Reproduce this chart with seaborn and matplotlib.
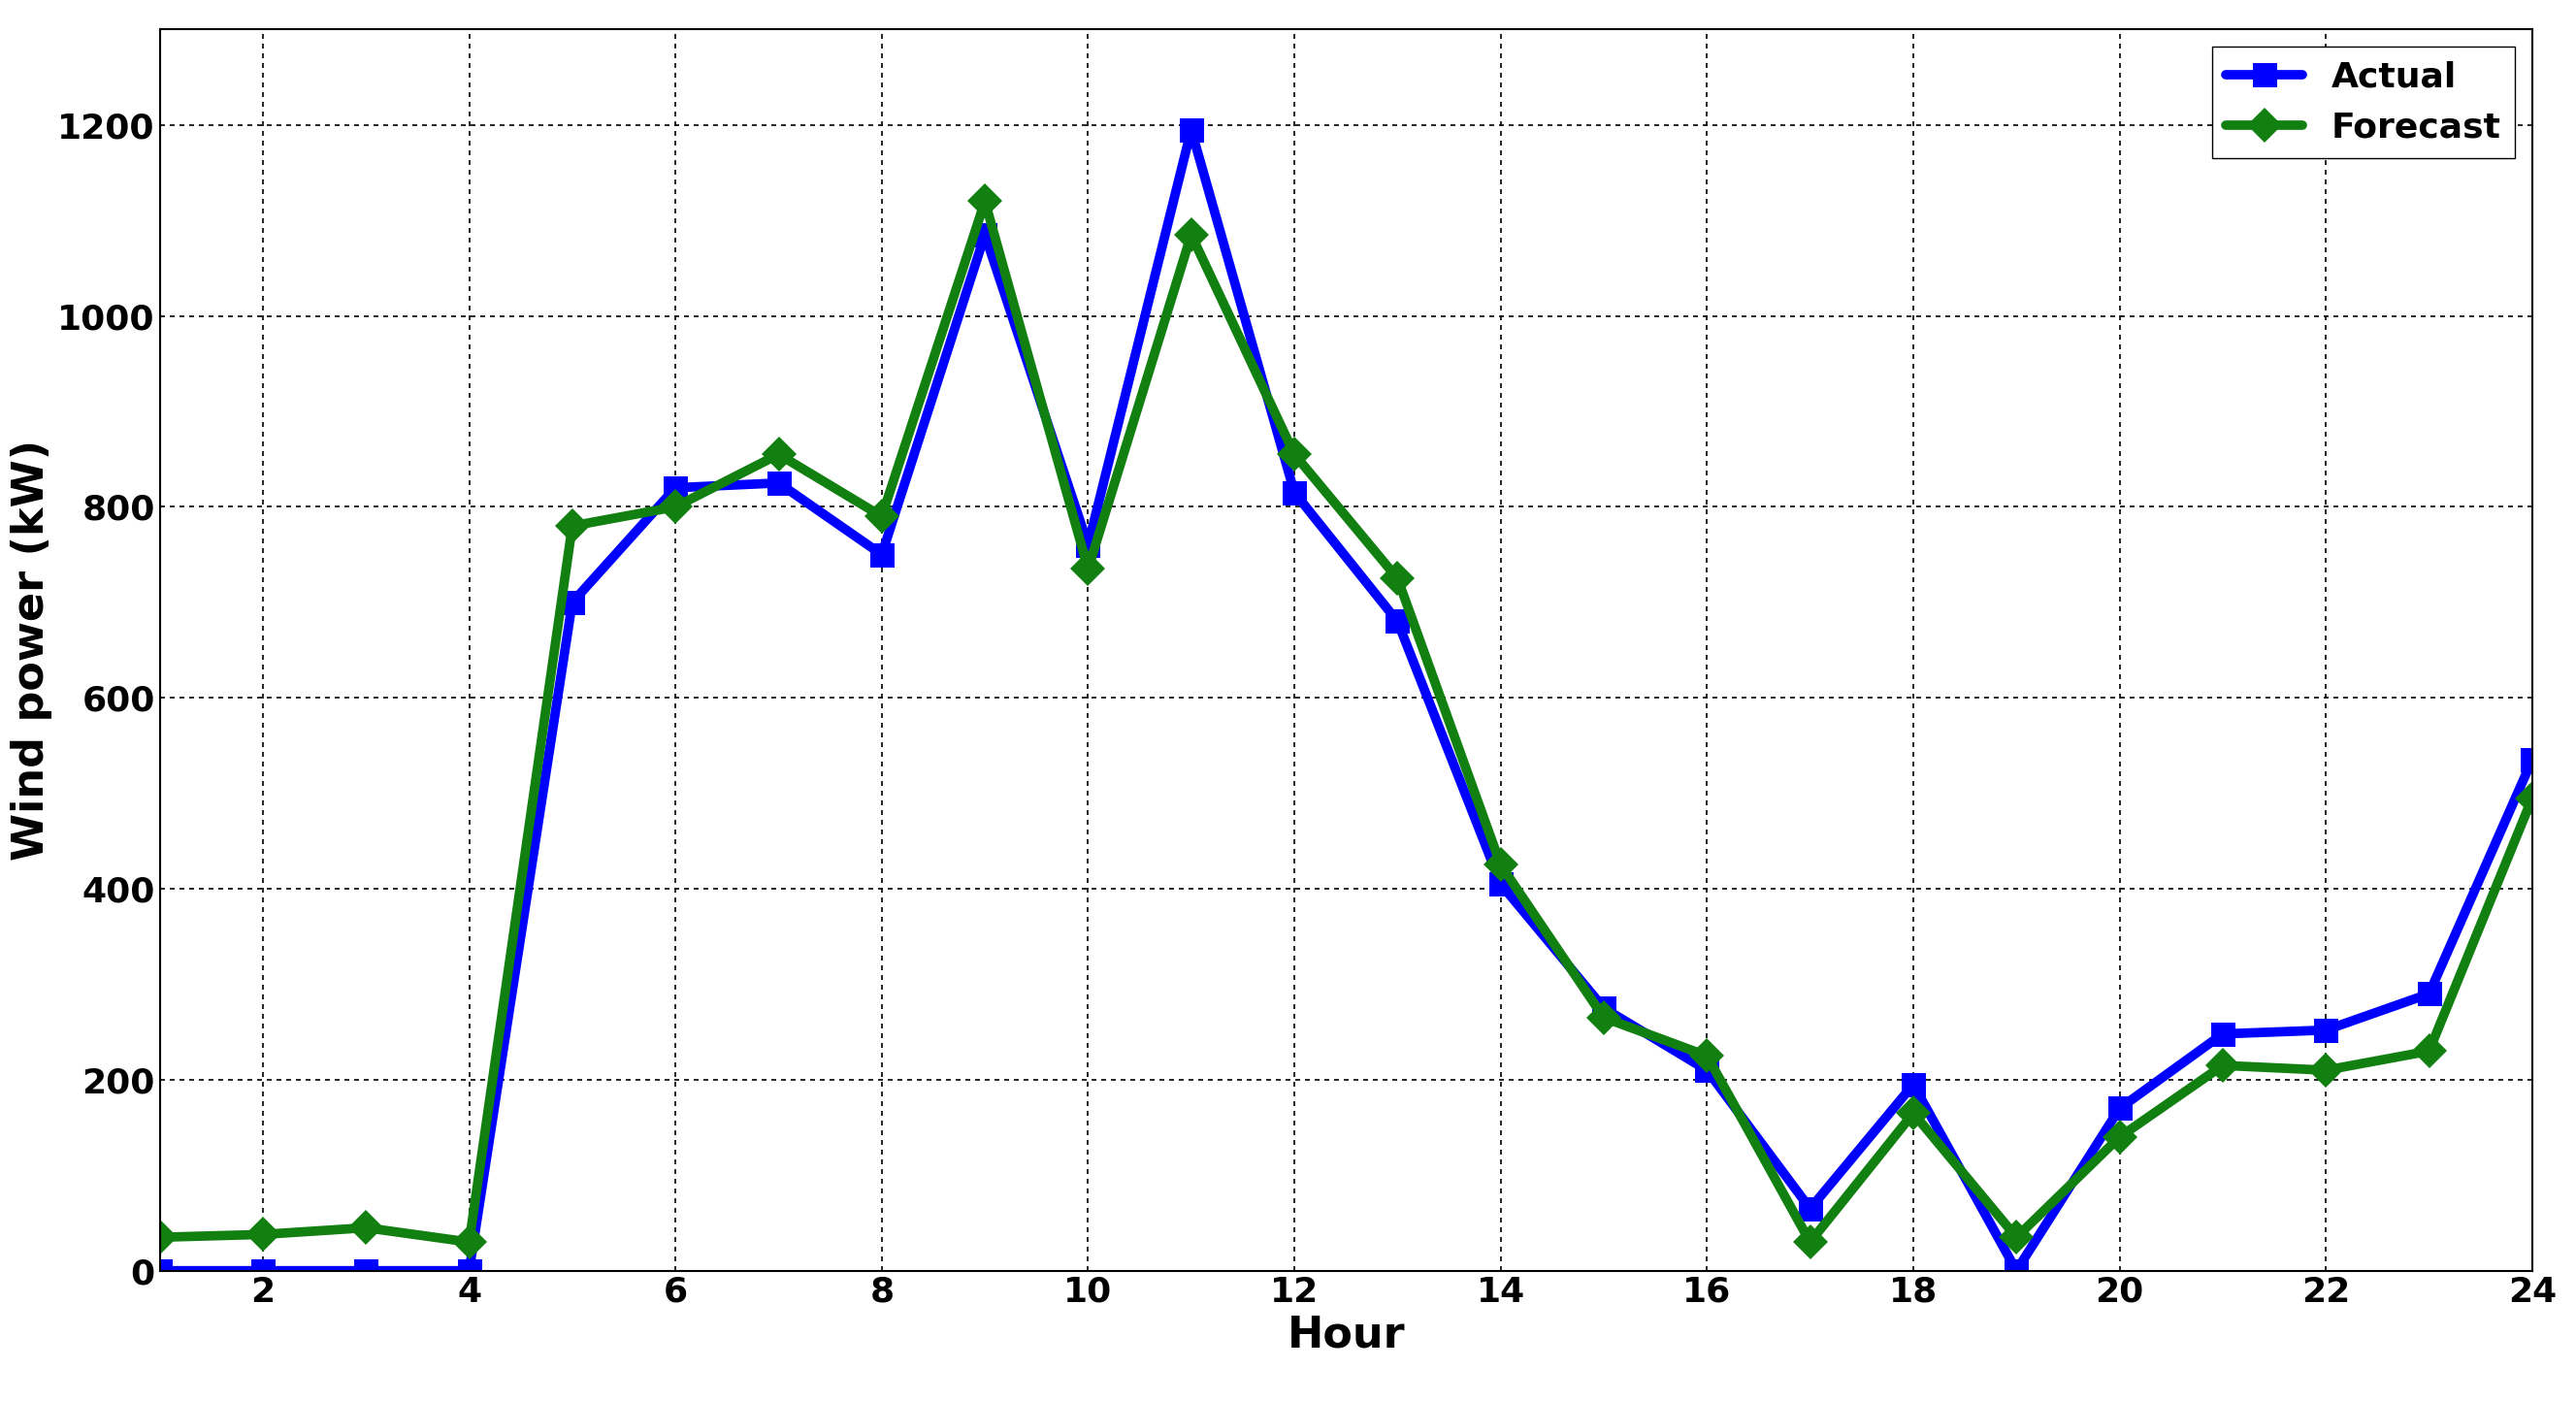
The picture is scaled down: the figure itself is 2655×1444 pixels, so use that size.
import numpy as np
import pandas as pd
import matplotlib
matplotlib.use("Agg")
import matplotlib.pyplot as plt
import seaborn as sns

hours = list(range(1, 25))
actual = [0, 0, 0, 0, 700, 820, 825, 750, 1085, 760, 1195, 815,
          680, 405, 275, 210, 65, 195, 0, 170, 248, 252, 290, 535]
forecast = [35, 38, 45, 30, 780, 800, 855, 790, 1120, 735, 1085, 855,
            725, 425, 265, 225, 30, 165, 35, 140, 215, 210, 230, 495]

df = pd.DataFrame({"Hour": hours * 2,
                   "Power": actual + forecast,
                   "Series": ["Actual"] * 24 + ["Forecast"] * 24})

sns.set_style("white")
plt.rcParams['font.family'] = ['DejaVu Sans']
plt.rcParams['text.color'] = 'black'
plt.rcParams['axes.labelcolor'] = 'black'
plt.rcParams['xtick.color'] = 'black'
plt.rcParams['ytick.color'] = 'black'
fig, ax = plt.subplots(figsize=(26.55, 14.44), dpi=100)
fig.subplots_adjust(left=0.062, right=0.983, top=0.979, bottom=0.093)

sns.lineplot(data=df, x="Hour", y="Power", hue="Series", style="Series",
             markers={"Actual": "s", "Forecast": "D"}, dashes=False,
             palette={"Actual": "#0000ff", "Forecast": "#118011"},
             linewidth=7, markersize=18, markeredgewidth=0, ax=ax)

ax.set_xlim(1, 24)
ax.set_ylim(0, 1300)
ax.set_xticks(range(2, 25, 2))
ax.set_yticks(range(0, 1201, 200))
ax.grid(True, color="black", linestyle=(0, (3, 3)), linewidth=1.2)
for s in ax.spines.values():
    s.set_color("black")
    s.set_linewidth(1.5)
ax.tick_params(labelsize=26, direction="in", length=8, colors="black")
for lab in ax.get_xticklabels() + ax.get_yticklabels():
    lab.set_fontweight("bold")
ax.set_xlabel("Hour", fontsize=32, fontweight="bold", color="black")
ax.set_ylabel("Wind power (kW)", fontsize=32, fontweight="bold", color="black")
leg = ax.legend(loc="upper right", fontsize=26, fancybox=False,
                edgecolor="black", framealpha=1, handlelength=2.2)
for t in leg.get_texts():
    t.set_fontweight("bold")
    t.set_color("black")

fig.savefig("out.png", dpi=100)
